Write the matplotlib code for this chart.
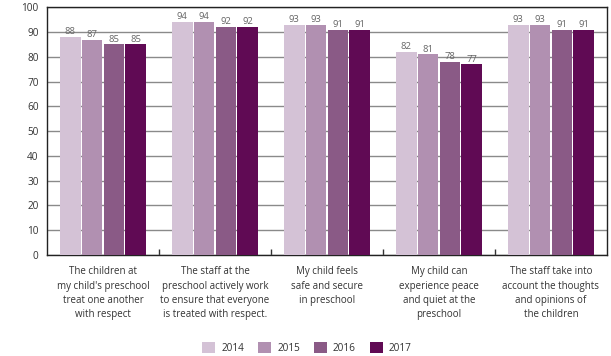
import matplotlib
matplotlib.use("Agg")
import matplotlib.pyplot as plt
import numpy as np
from matplotlib.patches import Patch

plt.rcParams['font.family'] = ['Open Sans', 'DejaVu Sans']

categories = [
    "The children at\nmy child's preschool\ntreat one another\nwith respect",
    "The staff at the\npreschool actively work\nto ensure that everyone\nis treated with respect.",
    "My child feels\nsafe and secure\nin preschool",
    "My child can\nexperience peace\nand quiet at the\npreschool",
    "The staff take into\naccount the thoughts\nand opinions of\nthe children",
]
years = ["2014", "2015", "2016", "2017"]
values = {
    "2014": [88, 94, 93, 82, 93],
    "2015": [87, 94, 93, 81, 93],
    "2016": [85, 92, 91, 78, 91],
    "2017": [85, 92, 91, 77, 91],
}
colors = ["#d4c2d6", "#b190b1", "#8a5a86", "#600a54"]

fig = plt.figure(figsize=(6.11, 3.56), dpi=100)
ax = fig.add_axes([47/611, 1-255/356, 560/611, 247.7/356])

x = np.arange(len(categories))
slot = 0.196
width = 0.187
for i, yr in enumerate(years):
    pos = x + (i - 1.5) * slot
    bars = ax.bar(pos, values[yr], width=width, color=colors[i], zorder=3)
    for px, v in zip(pos, values[yr]):
        ax.text(px, v + 0.3, str(v), ha='center', va='bottom', fontsize=6.8,
                color='#666666', zorder=4)

ax.set_xlim(-0.5, len(categories) - 0.5)
ax.set_ylim(0, 100)
ax.set_yticks(range(0, 101, 10))
ax.yaxis.grid(True, color='#8a8a8a', linewidth=1.0, zorder=0)
ax.set_axisbelow(True)
ax.tick_params(axis='y', length=0, labelsize=7.2, labelcolor='#333333', pad=6)

ax.set_xticks(np.arange(0.5, len(categories) - 0.5, 1.0))
ax.set_xticklabels([])
ax.tick_params(axis='x', direction='in', length=4, width=1, color='#333333')
for i, c in enumerate(categories):
    ax.text(i, -4.5, c, ha='center', va='top', fontsize=7, color='#333333',
            linespacing=1.42, transform=ax.transData)

for s in ['left', 'bottom', 'top', 'right']:
    ax.spines[s].set_color('#222222')
    ax.spines[s].set_linewidth(1.0)

handles = [Patch(facecolor=c, edgecolor='none') for c in colors]
fig.legend(handles, years, loc='center', bbox_to_anchor=(307/611, 1-348/356),
           ncol=4, frameon=False, fontsize=7.2, handlelength=1.3, handleheight=1.3,
           handletextpad=0.6, columnspacing=1.4, labelcolor='#333333')

fig.savefig("out.png", dpi=100)
